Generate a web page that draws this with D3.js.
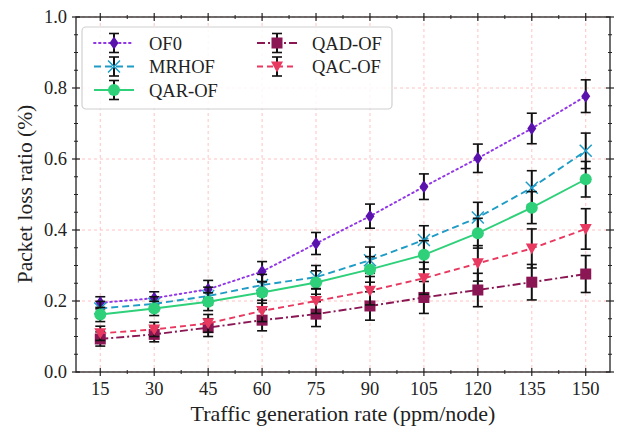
<!DOCTYPE html>
<html><head><meta charset="utf-8">
<script src="https://cdn.jsdelivr.net/npm/d3@7"></script>
<style>html,body{margin:0;padding:0;background:#fff;}svg{display:block;font-family:"Liberation Serif","Times New Roman",serif;}</style>
</head><body><svg id="c" width="618" height="428"></svg>
<script>
const rates = [15,30,45,60,75,90,105,120,135,150];
const seriesNames = ["OF0","MRHOF","QAR-OF","QAD-OF","QAC-OF"];
const of0 = [0.195,0.208,0.233,0.283,0.362,0.439,0.522,0.602,0.686,0.777];
const of0Err = [0.017,0.018,0.025,0.028,0.031,0.034,0.036,0.040,0.043,0.046];
const mrhof = [0.179,0.192,0.214,0.245,0.267,0.315,0.372,0.435,0.519,0.623];
const mrhofErr = [0.020,0.020,0.025,0.030,0.033,0.037,0.040,0.043,0.048,0.050];
const qar = [0.162,0.179,0.198,0.224,0.252,0.289,0.330,0.391,0.463,0.543];
const qarErr = [0.020,0.020,0.025,0.030,0.033,0.036,0.040,0.042,0.045,0.050];
const qad = [0.093,0.106,0.125,0.146,0.163,0.186,0.210,0.231,0.253,0.276];
const qadErr = [0.020,0.021,0.025,0.030,0.035,0.040,0.045,0.047,0.050,0.052];
const qac = [0.109,0.120,0.137,0.172,0.200,0.229,0.264,0.306,0.348,0.403];
const qacErr = [0.020,0.020,0.025,0.030,0.035,0.040,0.045,0.050,0.055,0.057];
const yTicks = [0.0,0.2,0.4,0.6,0.8,1.0];
const xLabel = "Traffic generation rate (ppm/node)";
const yLabel = "Packet loss ratio (%)";

const styles = [
  {line:"#9136e6", mark:"#5a12ad", dash:"1.6,3.4", shape:"diamond", cap:"round"},
  {line:"#1e9cc6", mark:"#1e9cc6", dash:"7,4", shape:"x", cap:"butt"},
  {line:"#2fd07a", mark:"#2fd07a", dash:null, shape:"circle", cap:"butt"},
  {line:"#8a1654", mark:"#8a1654", dash:"8,3,2,3", shape:"square", cap:"butt"},
  {line:"#e83a60", mark:"#e83a60", dash:"6,4", shape:"tri", cap:"butt"}
];
const vals = [of0,mrhof,qar,qad,qac];
const errs = [of0Err,mrhofErr,qarErr,qadErr,qacErr];

const L=76,R=610,T=17,B=372;
const x = d3.scaleLinear().domain([8.25,156.75]).range([L,R]);
const y = d3.scaleLinear().domain([0,1]).range([B,T]);
const svg = d3.select("#c");

// grid
const g = svg.append("g");
rates.forEach(r=>g.append("line").attr("x1",x(r)).attr("x2",x(r)).attr("y1",T).attr("y2",B)
  .attr("stroke","#ffb3b3").attr("stroke-width",0.8).attr("stroke-dasharray","3,3"));
yTicks.forEach(t=>g.append("line").attr("y1",y(t)).attr("y2",y(t)).attr("x1",L).attr("x2",R)
  .attr("stroke","#ffb3b3").attr("stroke-width",0.8).attr("stroke-dasharray","3,3"));

function marker(sel, shape, color, cx, cy){
  if(shape==="diamond"){
    sel.append("path").attr("d",`M${cx},${cy-6.5}L${cx+4.5},${cy}L${cx},${cy+6.5}L${cx-4.5},${cy}Z`).attr("fill",color);
  } else if(shape==="x"){
    sel.append("path").attr("d",`M${cx-6},${cy-6}L${cx+6},${cy+6}M${cx-6},${cy+6}L${cx+6},${cy-6}`).attr("stroke",color).attr("stroke-width",1.5).attr("fill","none");
  } else if(shape==="circle"){
    sel.append("circle").attr("cx",cx).attr("cy",cy).attr("r",6).attr("fill",color);
  } else if(shape==="square"){
    sel.append("rect").attr("x",cx-5.5).attr("y",cy-5.5).attr("width",11).attr("height",11).attr("fill",color);
  } else if(shape==="tri"){
    sel.append("path").attr("d",`M${cx-6},${cy-5}L${cx+6},${cy-5}L${cx},${cy+6}Z`).attr("fill",color);
  }
}

const plot = svg.append("g");
vals.forEach((v,si)=>{
  const st = styles[si];
  const sg = plot.append("g");
  rates.forEach((r,i)=>{
    const px=x(r), y1=y(v[i]+errs[si][i]), y0=y(v[i]-errs[si][i]);
    sg.append("line").attr("x1",px).attr("x2",px).attr("y1",y1).attr("y2",y0).attr("stroke","#111").attr("stroke-width",2);
    [y1,y0].forEach(yy=>sg.append("line").attr("x1",px-5).attr("x2",px+5).attr("y1",yy).attr("y2",yy).attr("stroke","#111").attr("stroke-width",1.6));
  });
  const line = d3.line().x((d,i)=>x(rates[i])).y(d=>y(d));
  const p = sg.append("path").attr("d",line(v)).attr("fill","none").attr("stroke",st.line).attr("stroke-width",1.9).attr("stroke-linecap",st.cap);
  if(st.dash) p.attr("stroke-dasharray",st.dash);
  rates.forEach((r,i)=>marker(sg, st.shape, st.mark, x(r), y(v[i])));
});

// frame
svg.append("rect").attr("x",L).attr("y",T).attr("width",R-L).attr("height",B-T).attr("fill","none").attr("stroke","#222").attr("stroke-width",1.3);

// ticks
const ax = svg.append("g").attr("stroke","#222");
const xMinor = d3.range(22.5,150,15);
rates.forEach(r=>{
  ax.append("line").attr("x1",x(r)).attr("x2",x(r)).attr("y1",B-4).attr("y2",B+4).attr("stroke-width",1.2);
  ax.append("line").attr("x1",x(r)).attr("x2",x(r)).attr("y1",T-4).attr("y2",T+4).attr("stroke-width",1.2);
});
xMinor.forEach(r=>{
  ax.append("line").attr("x1",x(r)).attr("x2",x(r)).attr("y1",B-2).attr("y2",B+2).attr("stroke-width",1);
  ax.append("line").attr("x1",x(r)).attr("x2",x(r)).attr("y1",T-2).attr("y2",T+2).attr("stroke-width",1);
});
yTicks.forEach(t=>{
  ax.append("line").attr("y1",y(t)).attr("y2",y(t)).attr("x1",L-4).attr("x2",L+4).attr("stroke-width",1.2);
  ax.append("line").attr("y1",y(t)).attr("y2",y(t)).attr("x1",R-4).attr("x2",R+4).attr("stroke-width",1.2);
});
const yMinor = d3.range(1,20).filter(k=>k%4!==0).map(k=>k*0.05);
yMinor.forEach(t=>{
  ax.append("line").attr("y1",y(t)).attr("y2",y(t)).attr("x1",L-2).attr("x2",L+2).attr("stroke-width",1);
  ax.append("line").attr("y1",y(t)).attr("y2",y(t)).attr("x1",R-2).attr("x2",R+2).attr("stroke-width",1);
});

// tick labels
const tl = svg.append("g").attr("fill","#222").attr("font-size",18.5);
rates.forEach(r=>tl.append("text").attr("x",x(r)).attr("y",395).attr("text-anchor","middle").text(r));
yTicks.forEach(t=>tl.append("text").attr("x",67).attr("y",y(t)+6.3).attr("text-anchor","end").text(t.toFixed(1)));

svg.append("text").attr("x",(L+R)/2).attr("y",421).attr("text-anchor","middle").attr("font-size",22).attr("fill","#222").text(xLabel);
svg.append("text").attr("transform","translate(32,194) rotate(-90)").attr("text-anchor","middle").attr("font-size",21.5).attr("fill","#222").text(yLabel);

// legend
const lg = svg.append("g");
lg.append("rect").attr("x",82).attr("y",27).attr("width",310).attr("height",82).attr("rx",4)
  .attr("fill","rgba(255,255,255,0.85)").attr("stroke","#d0d0d0").attr("stroke-width",1.2);
const pos = [[94,43],[94,66.5],[94,90],[257,43],[257,66.5]];
seriesNames.forEach((n,si)=>{
  const st = styles[si];
  const [lx,ly] = pos[si];
  const cx = lx+20;
  lg.append("line").attr("x1",cx).attr("x2",cx).attr("y1",ly-9.5).attr("y2",ly+9.5).attr("stroke","#111").attr("stroke-width",2);
  [ly-9.5,ly+9.5].forEach(yy=>lg.append("line").attr("x1",cx-5).attr("x2",cx+5).attr("y1",yy).attr("y2",yy).attr("stroke","#111").attr("stroke-width",1.6));
  const l = lg.append("line").attr("x1",lx).attr("x2",lx+40).attr("y1",ly).attr("y2",ly).attr("stroke",st.line).attr("stroke-width",1.9).attr("stroke-linecap",st.cap);
  if(st.dash) l.attr("stroke-dasharray",st.dash);
  marker(lg, st.shape, st.mark, cx, ly);
  lg.append("text").attr("x",lx+55).attr("y",ly+6.5).attr("font-size",18.5).attr("fill","#222").text(n);
});
</script></body></html>
